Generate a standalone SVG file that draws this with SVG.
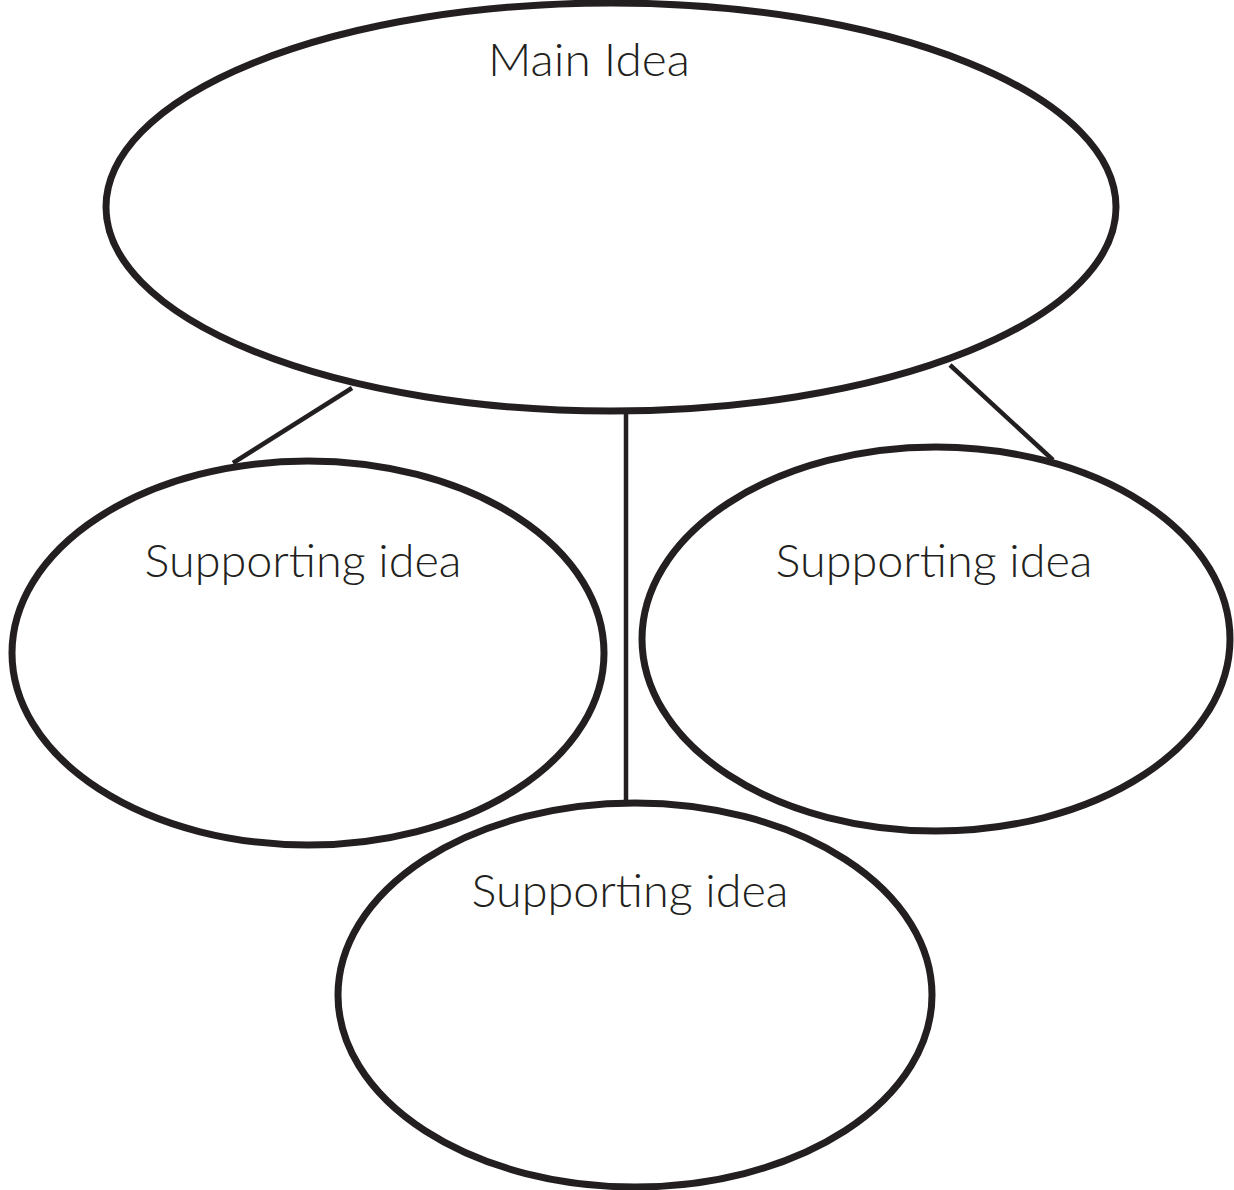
<svg xmlns="http://www.w3.org/2000/svg" width="1234" height="1190" viewBox="0 0 1234 1190">
<style>
.node ellipse{fill:none;stroke:#231f20;stroke-width:7}
.conn line{stroke:#231f20;stroke-width:4.5;fill:none}
text{font-family:Lato,"Open Sans","Liberation Sans",sans-serif;font-weight:300;font-size:45px;fill:#231f20;text-anchor:middle}
</style>
<rect width="1234" height="1190" fill="#ffffff"/>
<g id="connectors" class="conn">
<line x1="352" y1="388" x2="233" y2="463"/>
<line x1="626" y1="411" x2="626" y2="803"/>
<line x1="950" y1="365" x2="1053" y2="460"/>
</g>
<g id="main" class="node">
<ellipse cx="611" cy="207" rx="505" ry="204"/>
<text x="589" y="76" textLength="202" lengthAdjust="spacingAndGlyphs">Main Idea</text>
</g>
<g id="support-left" class="node">
<ellipse cx="308" cy="653" rx="296" ry="192"/>
<text x="303" y="577" textLength="317" lengthAdjust="spacingAndGlyphs">Supporting idea</text>
</g>
<g id="support-right" class="node">
<ellipse cx="936" cy="639" rx="294" ry="192"/>
<text x="934" y="577" textLength="317" lengthAdjust="spacingAndGlyphs">Supporting idea</text>
</g>
<g id="support-bottom" class="node">
<ellipse cx="635" cy="995" rx="297" ry="192"/>
<text x="630" y="907" textLength="317" lengthAdjust="spacingAndGlyphs">Supporting idea</text>
</g>
</svg>
